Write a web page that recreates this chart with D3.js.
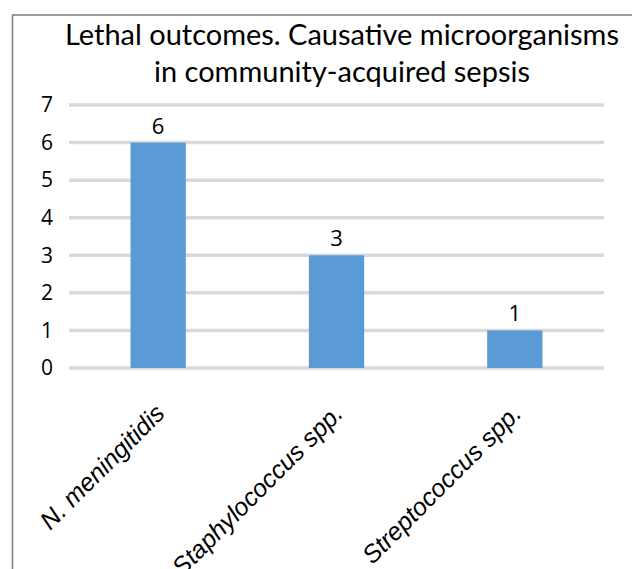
<!DOCTYPE html>
<html><head><meta charset="utf-8">
<script src="https://cdn.jsdelivr.net/npm/d3@7"></script>
<style>body{margin:0;background:#fff;}svg{display:block;}</style>
</head><body>
<svg id="chart" width="632" height="569"></svg>
<script>
const categories = ["N. meningitidis", "Staphylococcus spp.", "Streptococcus spp."];
const values = [6, 3, 1];
const yTicks = [0, 1, 2, 3, 4, 5, 6, 7];
const titleLines = ["Lethal outcomes. Causative microorganisms", "in community-acquired sepsis"];

const svg = d3.select("#chart");
const W = 632, H = 569;
const m = {left: 69, right: 28, top: 105, bottom: 201};

// frame
svg.append("path").attr("d", `M12.5,${H} L12.5,15 L${W},15`)
  .attr("fill", "none").attr("stroke", "#7f7f7f").attr("stroke-width", 1.5);

const x = d3.scaleBand().domain(categories).range([m.left, W - m.right]).paddingInner(0.69).paddingOuter(0.345);
const y = d3.scaleLinear().domain([0, 7]).range([H - m.bottom, m.top]);

// gridlines
svg.append("g").selectAll("line").data(yTicks).join("line")
  .attr("x1", m.left).attr("x2", W - m.right)
  .attr("y1", d => y(d)).attr("y2", d => y(d))
  .attr("stroke", "#d9d9d9").attr("stroke-width", 3.5);

// y axis labels
const yAxis = d3.axisLeft(y).tickValues(yTicks).tickFormat(d3.format("d")).tickSize(0).tickPadding(0);
const ya = svg.append("g").attr("transform", `translate(53,0)`).call(yAxis);
ya.select(".domain").remove();
ya.selectAll("text").attr("font-family", "Open Sans, sans-serif").attr("font-size", 21).attr("fill", "#000");

// bars
svg.append("g").selectAll("rect").data(values).join("rect")
  .attr("x", (d, i) => x(categories[i]))
  .attr("width", x.bandwidth())
  .attr("y", d => y(d))
  .attr("height", d => y(0) - y(d))
  .attr("fill", "#5b9bd5");

// value labels
svg.append("g").selectAll("text").data(values).join("text")
  .attr("x", (d, i) => x(categories[i]) + x.bandwidth() / 2)
  .attr("y", d => y(d) - 9)
  .attr("text-anchor", "middle")
  .attr("font-family", "Open Sans, sans-serif").attr("font-size", 22).attr("fill", "#000")
  .text(d => d);

// category labels
const xa = svg.append("g").attr("transform", `translate(0,${H - m.bottom})`)
  .call(d3.axisBottom(x).tickSize(0).tickPadding(0));
xa.select(".domain").remove();
xa.selectAll("text")
  .attr("font-family", "Liberation Sans, Arial, sans-serif").attr("font-style", "italic")
  .attr("font-size", 25).attr("fill", "#000")
  .attr("text-anchor", "end")
  .attr("dy", null).attr("y", 0)
  .attr("transform", "translate(8,47) rotate(-45)");

// title
const tl = svg.append("g").selectAll("text").data(titleLines).join("text")
  .attr("x", 342).attr("y", (d, i) => 45 + i * 37)
  .attr("text-anchor", "middle")
  .attr("font-family", "Lato, sans-serif").attr("font-size", 26).attr("fill", "#000")
  .text(d => d);
const w0 = tl.node().getComputedTextLength();
tl.attr("font-size", 26 * 554 / w0);
</script>
</body></html>
